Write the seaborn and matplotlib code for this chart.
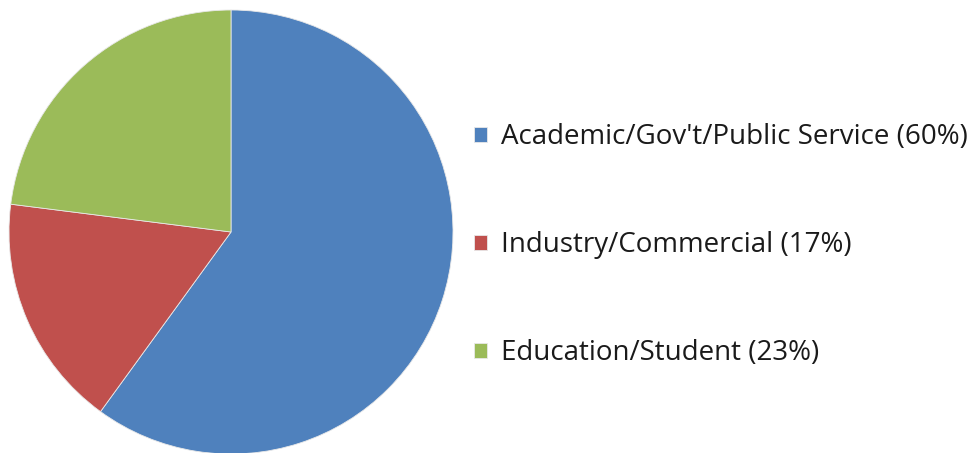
import numpy as np
import pandas as pd
import matplotlib.pyplot as plt
import seaborn as sns

sns.set_style("white")
plt.rcParams['font.family'] = ['Open Sans', 'DejaVu Sans']

# data
categories = ["Academic/Gov't/Public Service", "Industry/Commercial", "Education/Student"]
shares = [60, 17, 23]
colors = ["#4F81BD", "#C0504D", "#9BBB59"]

labels = [f"{c} ({s}%)" for c, s in zip(categories, shares)]
palette = sns.color_palette(colors)

fig = plt.figure(figsize=(9.77, 4.53), dpi=100)
W, H = 977, 453
cx, cy, r = 231, 453 - 232, 222
ax = fig.add_axes([(cx - r) / W, (cy - r) / H, 2 * r / W, 2 * r / H])

wedges, _ = ax.pie(shares, colors=palette, startangle=90, counterclock=False,
                   radius=1, wedgeprops=dict(linewidth=0.6, edgecolor="#e8e8e8"))
ax.set_xlim(-1, 1)
ax.set_ylim(-1, 1)
ax.set_aspect("equal")
ax.axis("off")

leg = fig.legend(wedges, labels, loc="center left",
                 bbox_to_anchor=(463 / W, (453 - 245) / H),
                 borderaxespad=0, frameon=False, fontsize=20,
                 labelspacing=2.88, handlelength=0.45, handleheight=0.45,
                 handletextpad=0.52)
for t in leg.get_texts():
    t.set_color("#1a1a1a")

fig.savefig("out.png", dpi=100)
